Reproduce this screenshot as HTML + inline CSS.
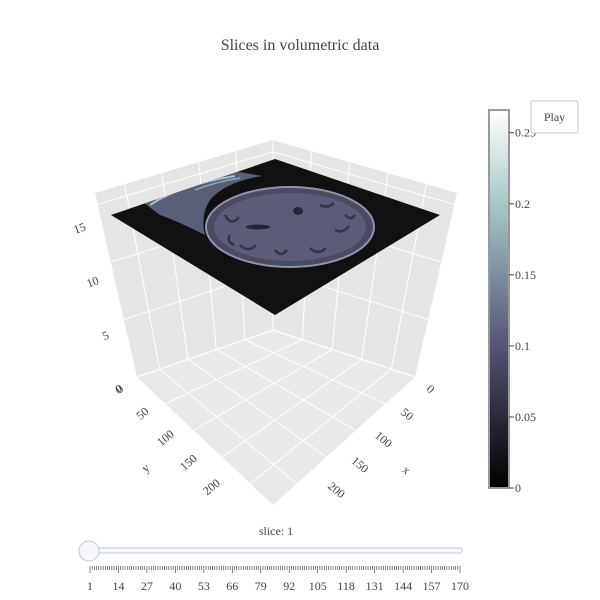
<!DOCTYPE html>
<html><head><meta charset="utf-8"><style>
body{margin:0;background:#fff;font-family:"Liberation Serif",serif;}
svg{display:block}
</style></head><body>
<svg id="chart" width="600" height="600" viewBox="0 0 600 600" font-family="Liberation Serif, serif">
<defs>
<linearGradient id="bone" x1="0" y1="1" x2="0" y2="0">
<stop offset="0" stop-color="#000"/>
<stop offset="0.375" stop-color="#545474"/>
<stop offset="0.75" stop-color="#a7c7c7"/>
<stop offset="1" stop-color="#fff"/>
</linearGradient>
<clipPath id="planeclip"><polygon points="111,215 275,159 440,215 275,315"/></clipPath>
</defs>
<text x="300" y="50" text-anchor="middle" font-size="16" fill="#444">Slices in volumetric data</text>
<g>
<polygon points="95,193 273,140 273,330 137,377" fill="#e5e5e5"/>
<polygon points="273,140 457,193 415,377 273,330" fill="#e5e5e5"/>
<polygon points="137,377 273,330 415,377 273,505" fill="#e8e8e8"/>
<g id="grid" stroke="#fff" stroke-width="1"></g>
<polygon points="111,215 275,159 440,215 275,315" fill="#111"/>
<g clip-path="url(#planeclip)">
<path d="M140,200 Q180,178 240,172 L262,176 Q225,182 210,200 Q200,215 205,235 Q175,220 160,215 Z" fill="#5a5f78"/>
<path d="M150,205 Q180,185 235,176" stroke="#9fc4cc" stroke-width="2" fill="none"/>
<path d="M195,190 Q215,182 240,178" stroke="#8fa8b8" stroke-width="1.5" fill="none"/>
<ellipse cx="290" cy="227" rx="84" ry="40" fill="#4a4a62" stroke="#8e96ac" stroke-width="2"/>
<ellipse cx="290" cy="227" rx="76" ry="34" fill="#5c5c78"/>
<ellipse cx="258" cy="227" rx="12" ry="2.5" fill="#25253a"/>
<ellipse cx="298" cy="211" rx="5" ry="4" fill="#25253a"/>
<path d="M225,215 q6,12 14,2 M240,245 q8,8 16,0 M275,250 q6,8 12,0 M310,248 q8,8 16,0 M335,230 q8,4 14,-4 M320,205 q8,4 14,-2 M230,235 q-4,6 4,10 M345,215 q6,6 10,0" stroke="#33334a" stroke-width="2.5" fill="none"/>
</g>
<g id="axislabels" font-size="12" fill="#444"></g>
</g>
<g>
<rect x="489" y="110" width="20" height="378" fill="url(#bone)" stroke="#999" stroke-width="2"/>
<g id="cbticks" font-size="12" fill="#444"></g>
</g>
<g>
<rect x="531" y="101" width="47" height="32" rx="2" fill="#fff" stroke="#bec8d9"/>
<text x="554.5" y="121" text-anchor="middle" font-size="12" fill="#444">Play</text>
</g>
<g>
<text x="276" y="535" text-anchor="middle" font-size="12" fill="#444">slice: 1</text>
<rect x="89" y="548" width="373" height="5" rx="2" fill="#f8fafc" stroke="#bec8d9"/>
<g id="sticks" font-size="12" fill="#444"></g>
<circle cx="89" cy="551" r="10" fill="#f6f8fb" stroke="#bec8d9"/>
</g>
</svg>
<script>
const cbTicks=[0,0.05,0.1,0.15,0.2,0.25];
const cbMax=0.266;
const sliderLabels=[1,14,27,40,53,66,79,92,105,118,131,144,157,170];
const sliderMin=1, sliderMax=170;
const xTicks=[0,50,100,150,200];
const yTicks=[0,50,100,150,200];
const zTicks=[0,5,10,15];
const NS="http://www.w3.org/2000/svg";
function mk(t,a,p){const e=document.createElementNS(NS,t);for(const k in a)e.setAttribute(k,a[k]);p.appendChild(e);return e;}
const cb=document.getElementById('cbticks');
const cy=v=>488-v/cbMax*378;
cbTicks.forEach(v=>{const y=cy(v);
 mk('line',{x1:509,x2:514,y1:y,y2:y,stroke:'#444'},cb);
 const t=mk('text',{x:515,y:y+4},cb);t.textContent=String(v);
 
 });
const st=document.getElementById('sticks');
const sx=v=>90+(v-sliderMin)/(sliderMax-sliderMin)*370;
for(let v=sliderMin;v<=sliderMax;v++){const x=sx(v);const maj=sliderLabels.includes(v);
 mk('line',{x1:x,x2:x,y1:566,y2:maj?573:570,stroke:'#333','stroke-width':0.6},st);}
sliderLabels.forEach(v=>{const t=mk('text',{x:sx(v),y:590,'text-anchor':'middle'},st);t.textContent=v;
 
 });
const g=document.getElementById('grid');
const lerp=(a,b,t)=>[a[0]+(b[0]-a[0])*t,a[1]+(b[1]-a[1])*t];
const L=[137,377],F=[273,505],R=[415,377],B=[273,330],LT=[95,193],BT=[273,140],RT=[457,193];
const xmax=240,ymax=240,zmax=16;
xTicks.forEach(v=>{const t=v/xmax;const a=lerp(B,R,t),b=lerp(L,F,t),c=lerp(BT,RT,t);
 mk('line',{x1:a[0],y1:a[1],x2:b[0],y2:b[1]},g);mk('line',{x1:a[0],y1:a[1],x2:c[0],y2:c[1]},g);});
yTicks.forEach(v=>{const t=v/ymax;const a=lerp(B,L,t),b=lerp(R,F,t),c=lerp(BT,LT,t);
 mk('line',{x1:a[0],y1:a[1],x2:b[0],y2:b[1]},g);mk('line',{x1:a[0],y1:a[1],x2:c[0],y2:c[1]},g);});
zTicks.forEach(v=>{const t=v/zmax;const a=lerp(L,LT,t),b=lerp(B,BT,t),c=lerp(R,RT,t);
 mk('polyline',{points:a+' '+b+' '+c,fill:'none'},g);});
const al=document.getElementById('axislabels');
function lab(txt,x,y,rot,name){const t=mk('text',{x:x,y:y,'text-anchor':'middle',transform:`rotate(${rot} ${x} ${y})`},al);t.textContent=txt;
 
 }
xTicks.forEach(v=>{const p=lerp([428,392],[334,493],v/200);lab(v,p[0],p[1],40,'x-tick-label');});
yTicks.forEach(v=>{const p=lerp([122,392],[214,490],v/200);lab(v,p[0],p[1],-40,'y-tick-label');});
zTicks.forEach(v=>{const p=lerp([120,393],[81,232],v/15);lab(v,p[0],p[1],-20,'z-tick-label');});
lab('x',404,473,40,'x-axis-title');lab('y',148,471,-40,'y-axis-title');
</script>
</body></html>
